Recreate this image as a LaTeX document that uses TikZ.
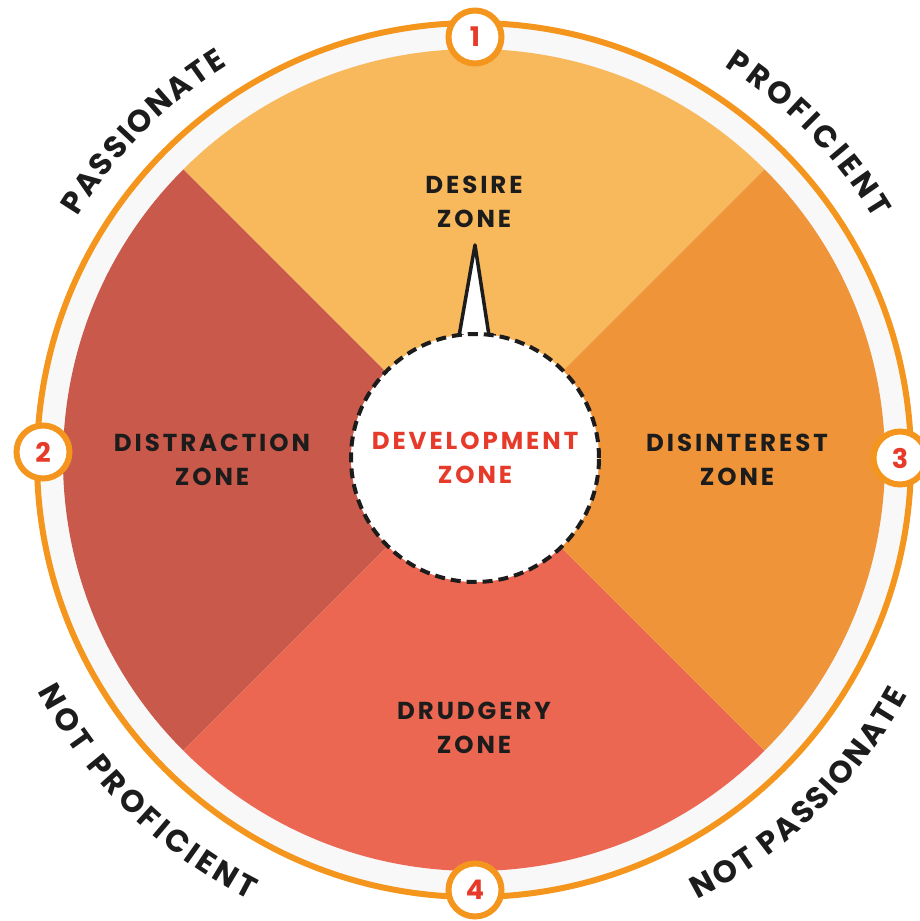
\documentclass[tikz,border=0pt]{standalone}
\usepackage{fontspec}
\setmainfont{Poppins}
\newfontfamily\zonefont{Poppins}[LetterSpace=12]
\usetikzlibrary{decorations.text}

\definecolor{ringorange}{HTML}{F4961E}
\definecolor{desire}{HTML}{F8B85C}
\definecolor{distraction}{HTML}{C9594A}
\definecolor{disinterest}{HTML}{EF9439}
\definecolor{drudgery}{HTML}{EB6751}
\definecolor{devred}{HTML}{E63B2A}
\definecolor{band}{HTML}{F8F8F8}
\definecolor{ink}{HTML}{1C1C1C}

\begin{document}
\begin{tikzpicture}[x=1pt, y=1pt,
  zone/.style={font=\zonefont\bfseries\fontsize{24.5}{33.5}\selectfont, text=ink, align=center},
  numdisc/.style={circle, draw=ringorange, line width=6pt, fill=white, minimum size=53pt,
    inner sep=0pt, text=devred, font=\bfseries\fontsize{27}{27}\selectfont},
  arcword/.style={decorate, decoration={text along path, text color=ink,
    text align=fit to path, text={|\bfseries\fontsize{31}{31}\selectfont|#1}}}
]
  \useasboundingbox (-474,-461) rectangle (446,460);
  \coordinate (O) at (0,0);

  % outer ring and the pale band inside it
  \draw[ringorange, line width=6pt, fill=band] (O) circle (437);

  % the four zones
  \fill[desire] (O) -- (45:411) arc[start angle=45, end angle=135, radius=411] -- cycle;
  \fill[distraction] (O) -- (135:411) arc[start angle=135, end angle=225, radius=411] -- cycle;
  \fill[drudgery] (O) -- (225:411) arc[start angle=225, end angle=315, radius=411] -- cycle;
  \fill[disinterest] (O) -- (315:411) arc[start angle=315, end angle=405, radius=411] -- cycle;

  % pointer from the centre up to desire
  \coordinate (spikeL) at (-16,118);
  \coordinate (spikeR) at (16,118);
  \coordinate (spikeT) at (1,215);
  \filldraw[fill=white, draw=ink, line width=3.5pt, line join=round] (spikeL) -- (spikeT) -- (spikeR);
  \draw[ink, line width=3.5pt] (-22,124) -- (-10,124);
  \draw[ink, line width=3.5pt] (10,124) -- (22,124);

  % development circle
  \coordinate (C) at (1,2);
  \draw[ink, line width=4pt, dash pattern=on 10pt off 6pt, fill=white] (C) circle (124);

  \node (desirezone) [zone] at (0,258) {DESIRE\\ZONE};
  \node (distractionzone) [zone] at (-262,0) {DISTRACTION\\ZONE};
  \node (disinterestzone) [zone] at (263,0) {DISINTEREST\\ZONE};
  \node (drudgeryzone) [zone] at (0,-268) {DRUDGERY\\ZONE};
  \node (devzone) [zone, text=devred] at (C) {DEVELOPMENT\\ZONE};

  % numbered stops on the ring
  \node (n1) [numdisc] at (1,423) {1};
  \node (n2) [numdisc] at (-431,8) {2};
  \node (n3) [numdisc] at (426,2) {3};
  \node (n4) [numdisc] at (1,-430) {4};

  % words round the outside
  \path[arcword=PASSIONATE] (148.5:465) arc[start angle=148.5, end angle=122, radius=465];
  \path[arcword=PROFICIENT] (57.5:467) arc[start angle=57.5, end angle=31, radius=467];
  \path[arcword=NOT PROFICIENT] (208:494) arc[start angle=208, end angle=243, radius=494];
  \path[arcword=NOT PASSIONATE] (-63:493) arc[start angle=-63, end angle=-28.5, radius=493];
\end{tikzpicture}
\end{document}
